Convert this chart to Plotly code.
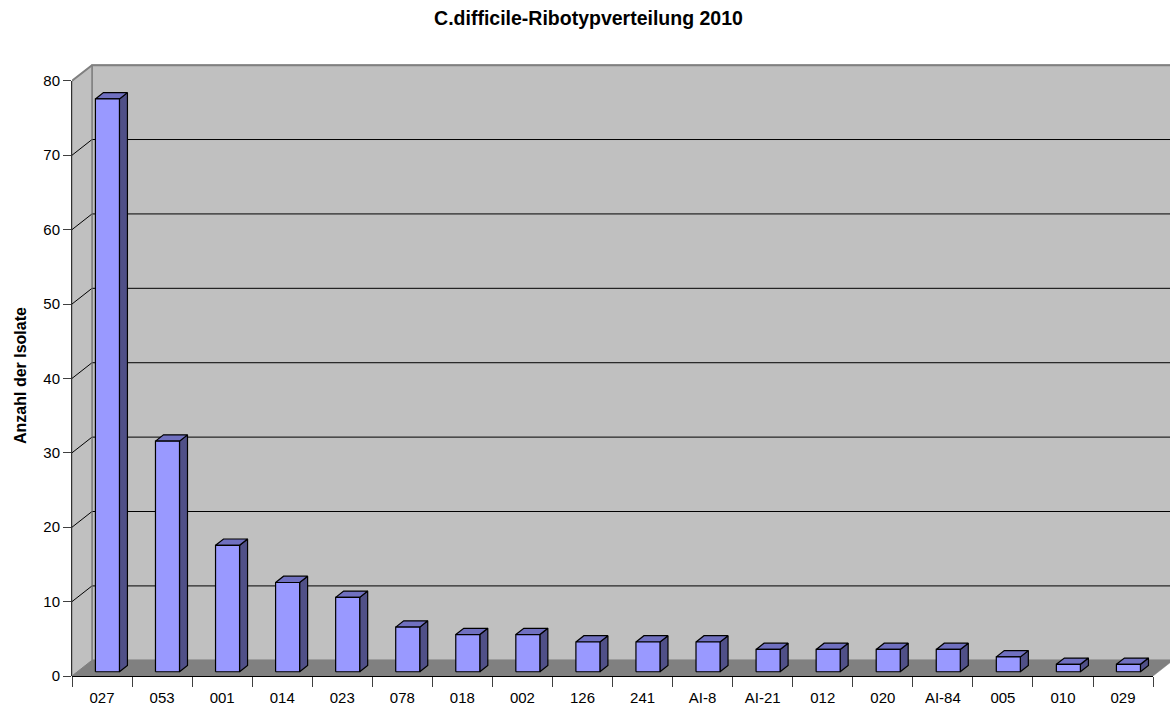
import plotly.graph_objects as go

# Ribotype counts for 2010
categories = ["027", "053", "001", "014", "023", "078", "018", "002", "126",
              "241", "AI-8", "AI-21", "012", "020", "AI-84", "005", "010", "029"]
counts = [77, 31, 17, 12, 10, 6, 5, 5, 4, 4, 4, 3, 3, 3, 3, 2, 1, 1]
y_ticks = [0, 10, 20, 30, 40, 50, 60, 70, 80]

FONT = "Liberation Sans, Arial, sans-serif"

# pseudo-3D geometry in data units
n = len(categories)
DX = 0.333          # depth shift along the category axis
DY = 2.11           # depth shift along the value axis
YMAX = 80
X_RANGE = [0, 18.282]
Y_RANGE = [0, 82.8]
Z0, Z1 = 0.27, 0.67  # front / back depth of the bars
BAR_HALF = 0.2

fig = go.Figure()


def poly(xs, ys, fill, line_color, line_width=1):
    fig.add_trace(go.Scatter(
        x=xs, y=ys, mode="lines", fill="toself", fillcolor=fill,
        line=dict(color=line_color, width=line_width),
        hoverinfo="skip", showlegend=False))


def line(xs, ys, color, width=1):
    fig.add_trace(go.Scatter(
        x=xs, y=ys, mode="lines", line=dict(color=color, width=width),
        hoverinfo="skip", showlegend=False))


x_right = n + DX + 0.5

# back wall
poly([DX, DX, x_right, x_right, DX], [DY, YMAX + DY, YMAX + DY, DY, DY],
     "#C0C0C0", "#808080", 1.5)
# side wall
poly([0, 0, DX, DX, 0], [0, YMAX, YMAX + DY, DY, 0], "#C0C0C0", "#808080", 1)

# gridlines on both walls
gx, gy = [], []
for v in y_ticks[1:-1]:
    gx += [0, DX, x_right, None]
    gy += [v, v + DY, v + DY, None]
line(gx, gy, "#000000", 1)
line([0, DX, x_right], [YMAX, YMAX + DY, YMAX + DY], "#808080", 2)
line([DX, DX], [DY, YMAX + DY], "#808080", 1)

# floor
poly([0, n, n + DX, DX, 0], [0, 0, DY, DY, 0], "#808080", "#808080", 0.5)

# bars: front, top and side faces
fx, fy, tx, ty, sx, sy = [], [], [], [], [], []
for i, h in enumerate(counts):
    l = i + 0.5 - BAR_HALF
    r = i + 0.5 + BAR_HALF
    a0x, a0y = Z0 * DX, Z0 * DY
    a1x, a1y = Z1 * DX, Z1 * DY
    fx += [l + a0x, r + a0x, r + a0x, l + a0x, l + a0x, None]
    fy += [a0y, a0y, h + a0y, h + a0y, a0y, None]
    tx += [l + a0x, r + a0x, r + a1x, l + a1x, l + a0x, None]
    ty += [h + a0y, h + a0y, h + a1y, h + a1y, h + a0y, None]
    sx += [r + a0x, r + a1x, r + a1x, r + a0x, r + a0x, None]
    sy += [a0y, a1y, h + a1y, h + a0y, a0y, None]

poly(sx, sy, "#505088", "#000000", 1.2)
poly(tx, ty, "#7070C0", "#000000", 1.2)
poly(fx, fy, "#9999FF", "#000000", 1.2)

# carriers for the labelled axes
fig.add_trace(go.Scatter(x=categories, y=[0] * n, xaxis="x2", yaxis="y",
                         mode="markers", marker=dict(opacity=0),
                         hoverinfo="skip", showlegend=False))
fig.add_trace(go.Scatter(x=[0], y=[0], xaxis="x", yaxis="y2",
                         mode="markers", marker=dict(opacity=0),
                         hoverinfo="skip", showlegend=False))

plot_w = 1170 - 72
cat_w = plot_w / X_RANGE[1]
plot_h = 706 - 60 - 30
px_per_unit = plot_h / Y_RANGE[1]

fig.update_layout(
    width=1170, height=706,
    margin=dict(l=72, r=0, t=60, b=30),
    paper_bgcolor="white", plot_bgcolor="rgba(0,0,0,0)",
    font=dict(family=FONT, size=15, color="black"),
    title=dict(text="<b>C.difficile-Ribotypverteilung 2010</b>",
               x=0.503, xanchor="center", y=0.974, yanchor="middle",
               font=dict(family=FONT, size=19.5, color="black")),
    xaxis=dict(range=X_RANGE, visible=False, fixedrange=True),
    yaxis=dict(range=Y_RANGE, visible=False, fixedrange=True),
    xaxis2=dict(type="category", categoryorder="array", categoryarray=categories,
                range=[-0.5, n - 0.5], domain=[0, n * cat_w / plot_w],
                anchor="y", tickson="boundaries", ticks="outside", ticklen=10,
                tickcolor="#404040", showline=True, linecolor="#000000",
                linewidth=1, showgrid=False, zeroline=False,
                ticklabelstandoff=8,
                tickfont=dict(family=FONT, size=15, color="black")),
    yaxis2=dict(range=[0, YMAX], domain=[0, YMAX * px_per_unit / plot_h],
                anchor="x", tickvals=y_ticks, ticks="outside", ticklen=8,
                tickcolor="#404040", showline=True, linecolor="#303030",
                linewidth=1, showgrid=False, zeroline=False,
                tickfont=dict(family=FONT, size=15, color="black")),
    annotations=[dict(text="<b>Anzahl der Isolate</b>", textangle=-90,
                      xref="paper", yref="paper", x=0, y=0.487,
                      xanchor="center", yanchor="middle", xshift=-52,
                      showarrow=False,
                      font=dict(family=FONT, size=16, color="black"))],
)

fig.write_html("out.html")
